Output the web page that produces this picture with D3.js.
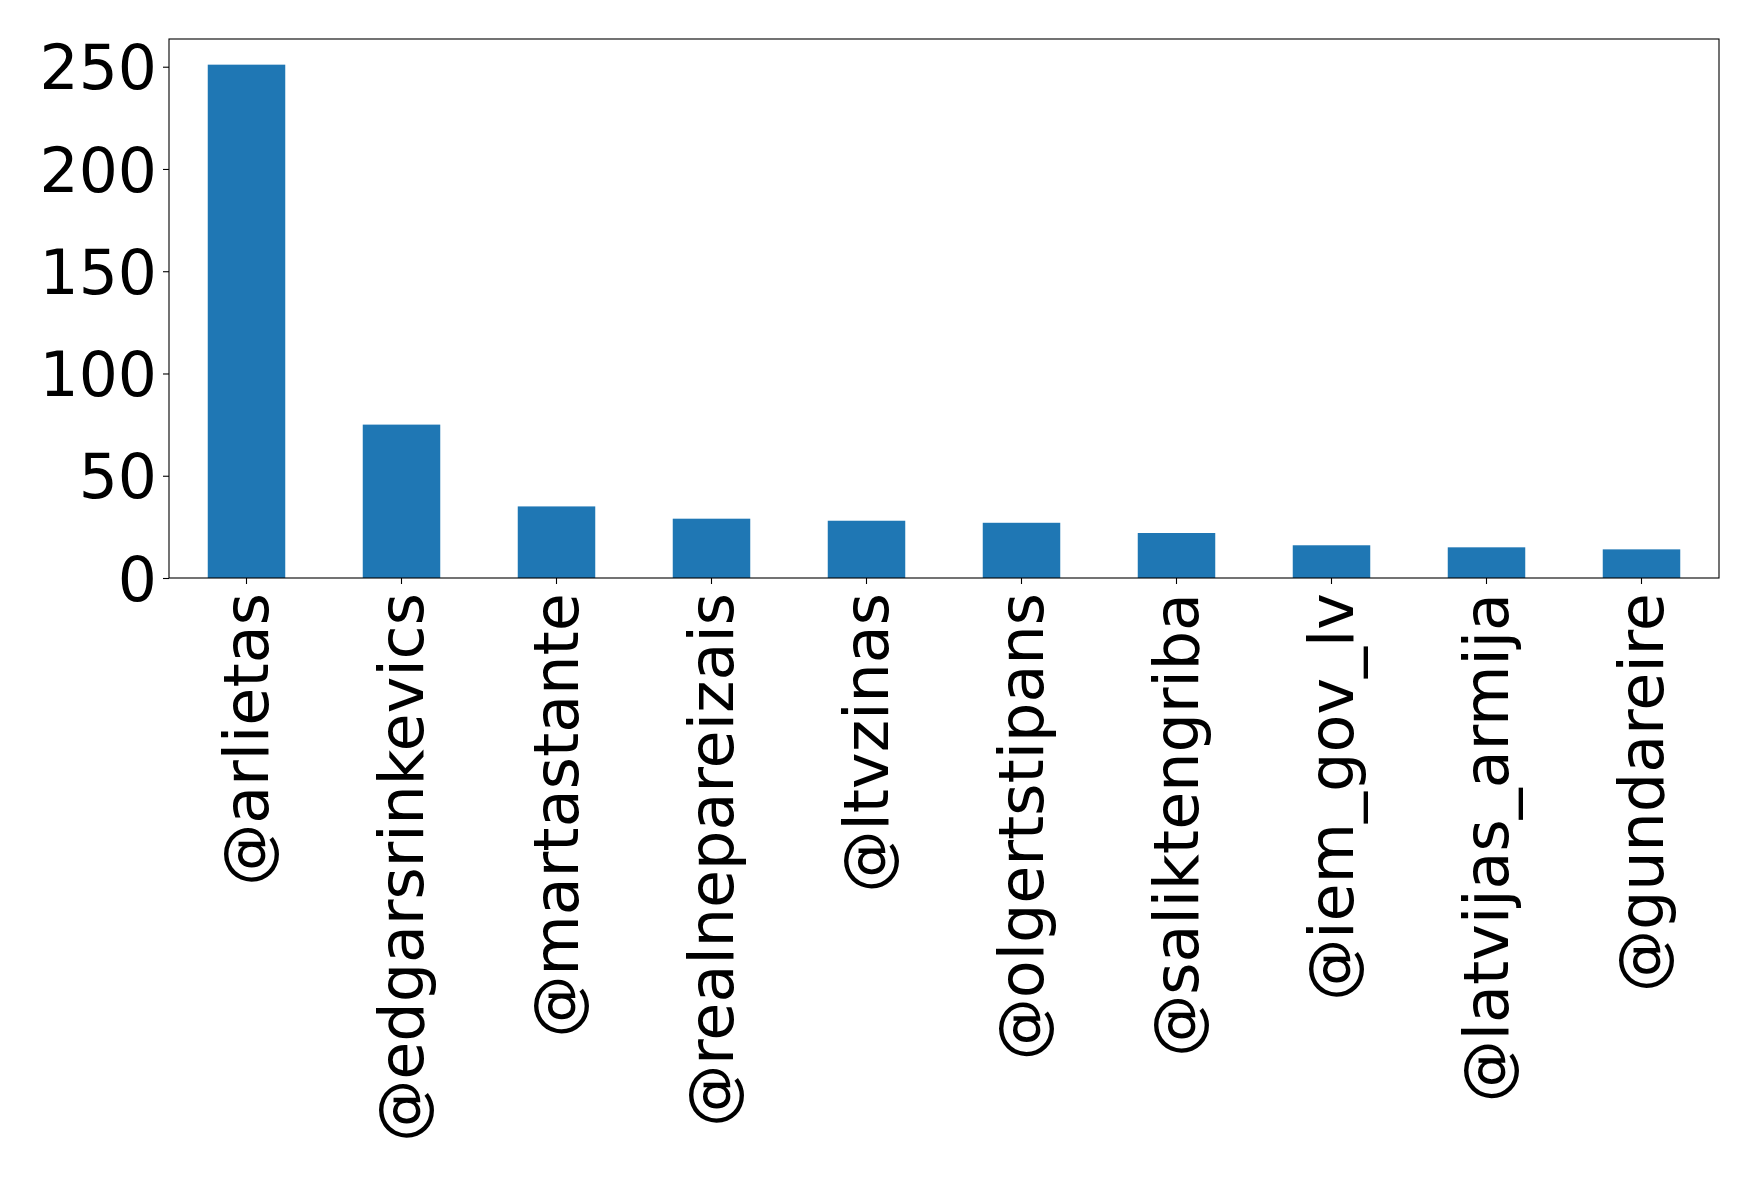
<!DOCTYPE html>
<html>
<head>
<meta charset="utf-8">
<script src="https://cdn.jsdelivr.net/npm/d3@7"></script>
<style>
  html, body { margin: 0; padding: 0; background: #ffffff; }
  svg { display: block; }
  text { font-family: "DejaVu Sans", sans-serif; fill: #000; }
</style>
</head>
<body>
<script>
const categories = ["@arlietas", "@edgarsrinkevics", "@martastante", "@realnepareizais", "@ltvzinas",
                    "@olgertstipans", "@saliktengriba", "@iem_gov_lv", "@latvijas_armija", "@gundareire"];
const values = [251, 75, 35, 29, 28, 27, 22, 16, 15, 14];
const yTicks = [0, 50, 100, 150, 200, 250];

const W = 1758, H = 1181;
const margin = {left: 169, right: W - 1719, top: 39, bottom: H - 578};
const iw = W - margin.left - margin.right;
const ih = H - margin.top - margin.bottom;

const svg = d3.select("body").append("svg").attr("width", W).attr("height", H);
const g = svg.append("g").attr("transform", `translate(${margin.left},${margin.top})`);

const x = d3.scaleBand().domain(categories).range([0, iw]).paddingInner(0.5).paddingOuter(0.25);
const y = d3.scaleLinear().domain([0, d3.max(values) * 1.05]).range([ih, 0]);

g.selectAll("rect.bar").data(values).enter().append("rect")
  .attr("class", "bar")
  .attr("x", (d, i) => x(categories[i]))
  .attr("width", x.bandwidth())
  .attr("y", d => y(d))
  .attr("height", d => y(0) - y(d))
  .attr("fill", "#1f77b4");

const fsY = 61.5;
const fsX = 62;

const yAxis = g.append("g").call(d3.axisLeft(y).tickValues(yTicks).tickSize(6).tickPadding(6));
yAxis.select(".domain").remove();
yAxis.selectAll("line").attr("stroke", "#000").attr("stroke-width", 1.1);
yAxis.selectAll("text").style("font-size", fsY + "px").style("font-family", "DejaVu Sans").attr("dy", "0.36em");

const xAxis = g.append("g").attr("transform", `translate(0,${ih})`)
  .call(d3.axisBottom(x).tickSize(6).tickPadding(6));
xAxis.select(".domain").remove();
xAxis.selectAll("line").attr("stroke", "#000").attr("stroke-width", 1.1);
xAxis.selectAll("text")
  .style("font-size", fsX + "px").style("font-family", "DejaVu Sans")
  .attr("text-anchor", "end")
  .attr("transform", "rotate(-90)")
  .attr("x", -15).attr("y", 0).attr("dy", "0.34em");

// frame
g.append("rect").attr("x", 0).attr("y", 0).attr("width", iw).attr("height", ih)
  .attr("fill", "none").attr("stroke", "#000").attr("stroke-width", 1.1);
</script>
</body>
</html>
